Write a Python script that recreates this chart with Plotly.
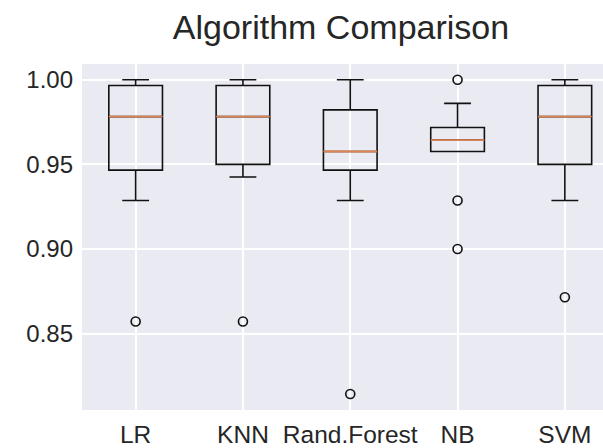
import plotly.graph_objects as go

# Cross-validation accuracy summary per algorithm
names = ["LR", "KNN", "Rand.Forest", "NB", "SVM"]
positions = [1, 2, 3, 4, 5]
q1 = [0.9466, 0.9500, 0.9466, 0.9576, 0.9500]
median = [0.9782, 0.9782, 0.9576, 0.9643, 0.9782]
q3 = [0.9966, 0.9966, 0.9822, 0.9718, 0.9966]
lower_whisker = [0.9286, 0.9425, 0.9286, 0.9576, 0.9286]
upper_whisker = [1.0000, 1.0000, 1.0000, 0.9860, 1.0000]
outliers = [[0.8571], [0.8571], [0.8143], [1.0000, 0.9286, 0.9000], [0.8714]]

y_ticks = [0.85, 0.90, 0.95, 1.00]
y_tick_text = ["0.85", "0.90", "0.95", "1.00"]

BOX_WIDTH = 0.5
TEXT = "#262626"
EDGE = "#111111"
MEDIAN_COLOR = "#DD8452"

fig = go.Figure()

for pos, a, m, b, lo, hi in zip(positions, q1, median, q3, lower_whisker, upper_whisker):
    fig.add_trace(go.Box(
        x=[pos], q1=[a], median=[m], q3=[b], lowerfence=[lo], upperfence=[hi],
        width=BOX_WIDTH, whiskerwidth=0.5, boxpoints=False,
        line=dict(color=EDGE, width=1.6),
        fillcolor="rgba(0,0,0,0)", hoverinfo="skip", showlegend=False,
    ))

# median lines drawn on top in orange
for pos, m in zip(positions, median):
    fig.add_trace(go.Scatter(
        x=[pos - BOX_WIDTH / 2, pos + BOX_WIDTH / 2], y=[m, m],
        mode="lines", line=dict(color=MEDIAN_COLOR, width=1.9),
        hoverinfo="skip", showlegend=False,
    ))

# fliers
for pos, pts in zip(positions, outliers):
    fig.add_trace(go.Scatter(
        x=[pos] * len(pts), y=pts, mode="markers",
        marker=dict(symbol="circle-open", size=9, color=EDGE,
                    line=dict(width=1.6, color=EDGE)),
        hoverinfo="skip", showlegend=False,
    ))

fig.update_layout(
    width=603, height=448,
    margin=dict(l=82, r=0, t=64, b=38),
    paper_bgcolor="white",
    plot_bgcolor="#EAEAF2",
    font=dict(family="Liberation Sans, Arial, sans-serif", color=TEXT, size=24),
    title=dict(text="Algorithm Comparison", x=341 / 603, xanchor="center",
               y=1 - 27 / 448, yanchor="middle",
               font=dict(size=34, color=TEXT)),
    xaxis=dict(
        range=[0.5, 0.5 + (603 - 82) / 107.3],
        tickmode="array", tickvals=positions, ticktext=names,
        showgrid=True, gridcolor="white", gridwidth=1.5,
        zeroline=False, showline=False, ticks="", ticklen=0,
        ticklabelstandoff=7,
        tickfont=dict(size=24.5, color=TEXT),
    ),
    yaxis=dict(
        range=[0.8048, 1.0093],
        tickmode="array", tickvals=y_ticks, ticktext=y_tick_text,
        showgrid=True, gridcolor="white", gridwidth=1.5,
        zeroline=False, showline=False, ticks="", ticklen=0,
        ticklabelstandoff=8,
        tickfont=dict(size=24, color=TEXT),
    ),
)

fig.write_html("out.html")
